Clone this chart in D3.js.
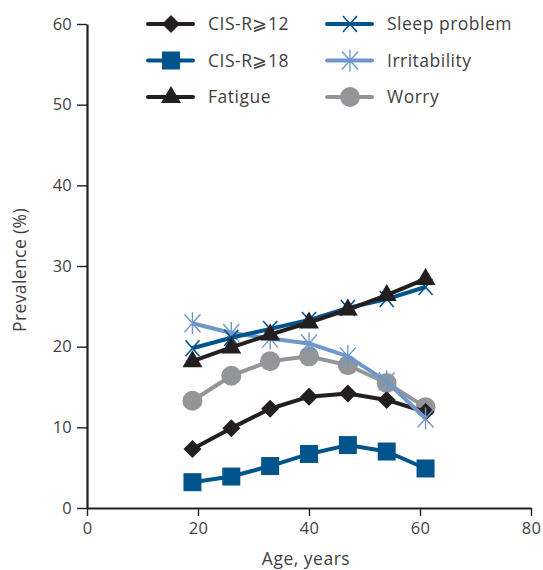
<!DOCTYPE html>
<html>
<head>
<meta charset="utf-8">
<script src="https://cdn.jsdelivr.net/npm/d3@7"></script>
<style>
  body { margin: 0; background: #fff; }
  text { font-family: "Open Sans", "Liberation Sans", sans-serif; fill: #3f3f3f; }
</style>
</head>
<body>
<script>
var ages = [19, 26, 33, 40, 47, 54, 61];

var cis12 = [7.3, 9.9, 12.3, 13.8, 14.2, 13.4, 11.9];
var cis18 = [3.2, 3.9, 5.2, 6.7, 7.8, 7.0, 4.9];
var fatigue = [18.2, 19.9, 21.5, 23.0, 24.6, 26.4, 28.4];
var sleep = [19.8, 21.1, 22.2, 23.3, 24.8, 25.9, 27.4];
var irritability = [22.9, 21.7, 21.0, 20.4, 18.8, 15.7, 11.1];
var worry = [13.3, 16.4, 18.2, 18.8, 17.7, 15.5, 12.5];

var xTicks = [0, 20, 40, 60, 80];
var yTicks = [0, 10, 20, 30, 40, 50, 60];

var series = [
  {name: 'CIS-R\u2a7e12', values: cis12, color: '#231f20', marker: 'diamond'},
  {name: 'CIS-R\u2a7e18', values: cis18, color: '#00548c', marker: 'square'},
  {name: 'Fatigue', values: fatigue, color: '#231f20', marker: 'triangle'},
  {name: 'Sleep problem', values: sleep, color: '#00548c', marker: 'cross'},
  {name: 'Irritability', values: irritability, color: '#6f97c8', marker: 'asterisk'},
  {name: 'Worry', values: worry, color: '#939598', marker: 'circle'}
];

// draw order in the plot (bottom to top)
var drawOrder = ['Worry', 'CIS-R\u2a7e12', 'CIS-R\u2a7e18', 'Irritability', 'Sleep problem', 'Fatigue'];

var width = 543,
    height = 570;

var margin = {left: 87, right: 12, top: 24, bottom: 62};

var svg = d3.select('body')
  .append('svg')
  .attr('width', width)
  .attr('height', height);

var x = d3.scaleLinear().domain([0, 80]).range([margin.left, 531]);
var y = d3.scaleLinear().domain([0, 60]).range([508, margin.top]);

// axes
var xAxis = svg.append('g')
  .attr('transform', 'translate(0,' + y(0) + ')')
  .call(d3.axisBottom(x).tickValues(xTicks).tickSize(8).tickSizeOuter(0).tickPadding(6));
var yAxis = svg.append('g')
  .attr('transform', 'translate(' + x(0) + ',0)')
  .call(d3.axisLeft(y).tickValues(yTicks).tickSize(10).tickSizeOuter(0).tickPadding(5));

[xAxis, yAxis].forEach(function(a) {
  a.select('.domain').attr('stroke', '#231f20').attr('stroke-width', 2.2);
  a.selectAll('.tick line').attr('stroke', '#231f20').attr('stroke-width', 1.4);
  a.selectAll('.tick text')
    .style('font-size', '16.5px')
    .style('letter-spacing', '0.2px')
    .attr('fill', '#3f3f3f');
});

svg.append('text')
  .attr('x', 306)
  .attr('y', 565)
  .attr('text-anchor', 'middle')
  .style('font-size', '17.5px')
  .style('letter-spacing', '0.5px')
  .text('Age, years');

svg.append('text')
  .attr('transform', 'translate(26,' + 270 + ') rotate(-90)')
  .attr('text-anchor', 'middle')
  .style('font-size', '17.5px')
  .style('letter-spacing', '0.4px')
  .text('Prevalence (%)');

function drawMarker(g, type, color) {
  if (type === 'diamond') {
    g.append('path').attr('d', 'M0,-9L9,0L0,9L-9,0Z').attr('fill', color);
  } else if (type === 'square') {
    g.append('rect').attr('x', -9).attr('y', -9).attr('width', 18).attr('height', 18).attr('fill', color);
  } else if (type === 'triangle') {
    g.append('path').attr('d', 'M0,-11L10,6L-10,6Z').attr('fill', color);
  } else if (type === 'circle') {
    g.append('circle').attr('r', 10).attr('fill', color);
  } else if (type === 'cross') {
    g.append('path').attr('d', 'M-7,-8L7,8M-7,8L7,-8')
      .attr('stroke', color).attr('stroke-width', 1.6).attr('fill', 'none');
  } else if (type === 'asterisk') {
    g.append('path').attr('d', 'M-8,-9L8,9M-8,9L8,-9M0,-11L0,11')
      .attr('stroke', color).attr('stroke-width', 1.4).attr('fill', 'none');
  }
}

var line = d3.line()
  .x(function(d) { return x(d[0]); })
  .y(function(d) { return y(d[1]); });

var plot = svg.append('g');

drawOrder.forEach(function(name) {
  var s = series.filter(function(d) { return d.name === name; })[0];
  var pts = ages.map(function(a, i) { return [a, s.values[i]]; });
  var g = plot.append('g');
  g.append('path')
    .attr('d', line(pts))
    .attr('fill', 'none')
    .attr('stroke', s.color)
    .attr('stroke-width', 4)
    .attr('stroke-linejoin', 'round');
  g.selectAll('.m')
    .data(pts)
    .enter()
    .append('g')
    .attr('transform', function(d) { return 'translate(' + x(d[0]) + ',' + y(d[1]) + ')'; })
    .each(function() { drawMarker(d3.select(this), s.marker, s.color); });
});

// legend
var legend = svg.append('g');
series.forEach(function(s, i) {
  var col = Math.floor(i / 3), row = i % 3;
  var lx = col === 0 ? 148 : 327;
  var ly = 24 + row * 36.5;
  var g = legend.append('g');
  g.append('line')
    .attr('x1', lx).attr('x2', lx + 45)
    .attr('y1', ly).attr('y2', ly)
    .attr('stroke', s.color).attr('stroke-width', 4).attr('stroke-linecap', 'round');
  var m = g.append('g').attr('transform', 'translate(' + (lx + 23) + ',' + ly + ')');
  drawMarker(m, s.marker, s.color);
  g.append('text')
    .attr('x', lx + 60)
    .attr('y', ly)
    .attr('dy', '0.35em')
    .style('font-size', '17.5px')
    .style('letter-spacing', '0.5px')
    .text(s.name);
});
</script>
</body>
</html>
